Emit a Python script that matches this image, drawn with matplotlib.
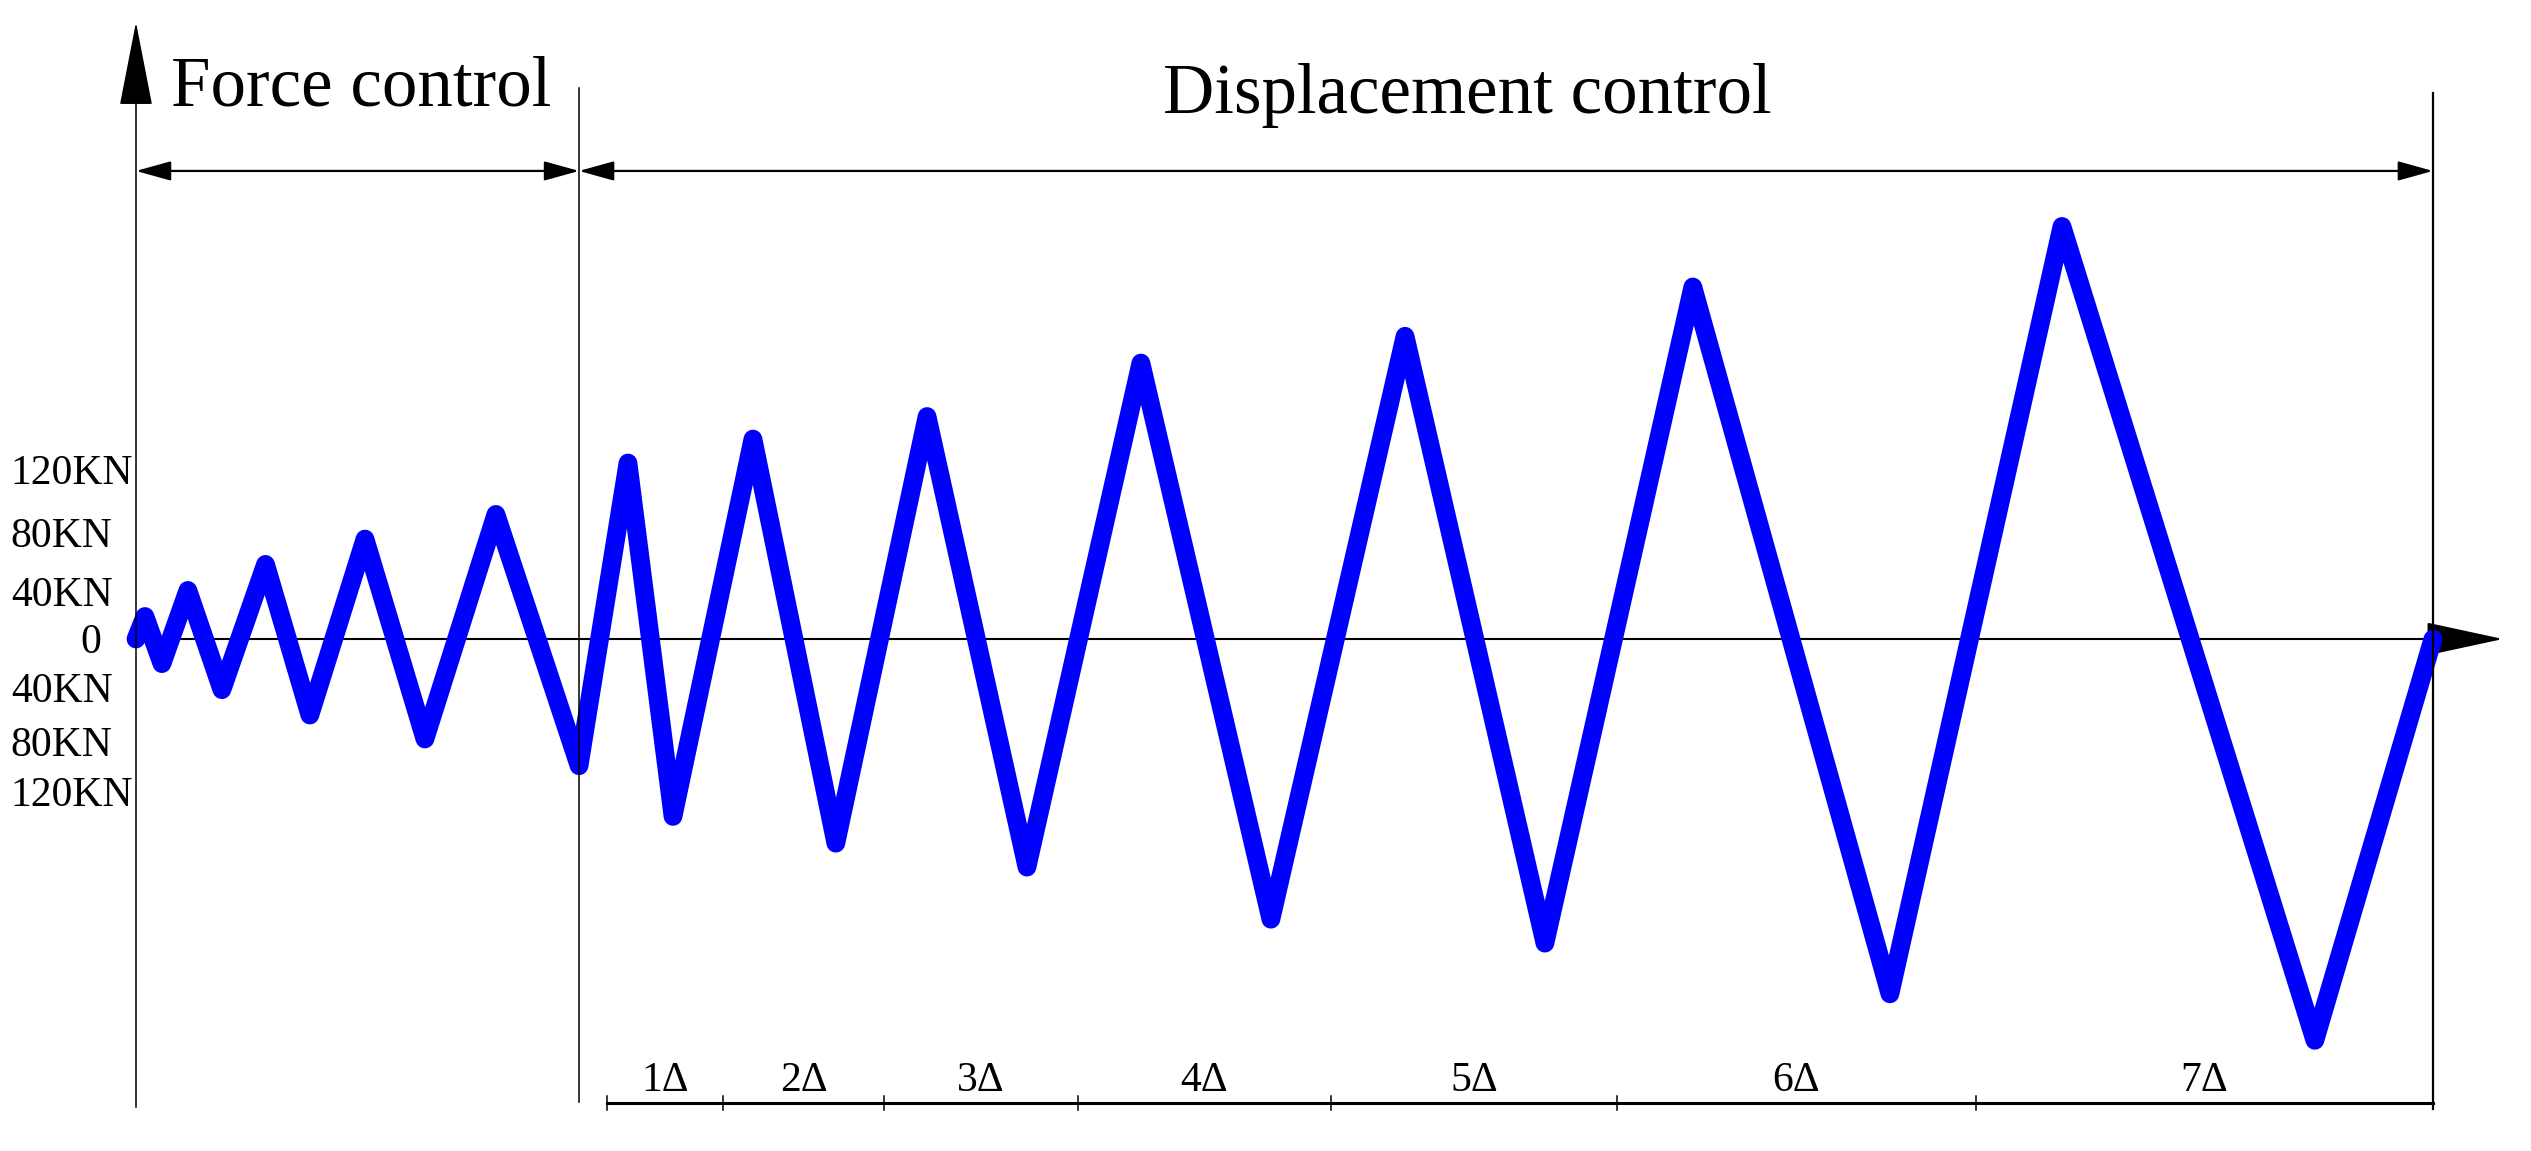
#!/usr/bin/env python3
"""Loading protocol: force control cycles followed by displacement control cycles."""

import matplotlib

matplotlib.use("Agg")
import matplotlib.pyplot as plt
from matplotlib.patches import ArrowStyle

plt.rcParams["font.family"] = ["Liberation Serif", "DejaVu Serif"]

# load steps (time axis, 0..100) and load values (kN-like units)
t_force = [0, 0.39, 1.13, 2.26, 3.74, 5.64, 7.57, 9.97, 12.58, 15.67, 19.29]
f_force = [0, 16, -17.5, 34.5, -36, 53, -54, 71, -71, 88.5, -90]
t_disp = [19.29, 21.42, 23.38, 26.86, 30.47, 34.44, 38.79, 43.75, 49.41, 55.25,
          61.34, 67.78, 76.36, 83.85, 94.86, 100]
f_disp = [-90, 125, -126, 142, -145, 158, -162, 196, -199, 215, -216, 250, -252,
          293, -285, 0]

ytick_vals = [120, 75, 33, 0, -35, -73, -109]
ytick_text = ["120KN", "80KN", "40KN", "0", "40KN", "80KN", "120KN"]

delta_bounds = [20.5, 25.57, 32.56, 41.01, 52.02, 64.48, 80.1, 100]
delta_text = ["1Δ", "2Δ", "3Δ", "4Δ", "5Δ", "6Δ", "7Δ"]

T_SWITCH = t_force[-1]
T_END = t_disp[-1]
BLUE = "#0000ff"
CAP_HALF = 9.9  # half cap height of 30pt labels, in y data units

fig = plt.figure(figsize=(25.31, 11.51), dpi=100)
ax = fig.add_axes([0, 0, 1, 1])
ax.set_xlim(-5.92, 104.27)
ax.set_ylim(-363.6, 453.8)
ax.axis("off")

# curve
ax.plot(t_force + t_disp[1:], f_force + f_disp[1:], color=BLUE, lw=13.5,
        solid_joinstyle="round", solid_capstyle="round", zorder=2)

# x axis with arrow
ax.annotate("", xy=(103.05, 0), xytext=(0, 0),
            arrowprops=dict(arrowstyle=ArrowStyle("-|>", head_length=2.5, head_width=0.54),
                            mutation_scale=20, color="black", lw=1.5,
                            shrinkA=0, shrinkB=0), zorder=1)
# y axis with arrow
ax.plot([0, 0], [-332, 386], color="black", lw=1.1, zorder=3)
ax.annotate("", xy=(0, 438), xytext=(0, 380),
            arrowprops=dict(arrowstyle=ArrowStyle("-|>", head_length=2.77, head_width=0.54),
                            mutation_scale=20, color="black", lw=1.1,
                            shrinkA=0, shrinkB=0), zorder=3)

# boundary lines
ax.plot([T_SWITCH, T_SWITCH], [-329, 391], color="black", lw=1.1, zorder=3)
ax.plot([T_END, T_END], [-334, 388], color="black", lw=1.6, zorder=3)

# dimension lines
dim_style = ArrowStyle("<|-|>", head_length=1.08, head_width=0.3)
for a, b in [(0, T_SWITCH), (T_SWITCH, T_END)]:
    ax.annotate("", xy=(b, 332.4), xytext=(a, 332.4),
                arrowprops=dict(arrowstyle=dim_style, mutation_scale=20, color="black",
                                lw=1.6, shrinkA=0, shrinkB=0))

ax.text((0 + T_SWITCH) / 2 + 0.15, 378.6, "Force control", fontsize=51,
        ha="center", va="baseline")
ax.text(57.97, 373.6, "Displacement control", fontsize=51, ha="center", va="baseline")

# load labels on the left
for v, s in zip(ytick_vals, ytick_text):
    if s == "0":
        ax.text(-1.95, v - CAP_HALF, s, fontsize=30, ha="center", va="baseline")
    else:
        ax.text(-5.45, v - CAP_HALF, s, fontsize=30, ha="left", va="baseline")

# displacement amplitude scale at the bottom
ax.plot([delta_bounds[0], delta_bounds[-1]], [-329.5, -329.5], color="black", lw=2.2)
for b in delta_bounds[:-1]:
    ax.plot([b, b], [-324.5, -334.5], color="black", lw=1.1)
for a, b, s in zip(delta_bounds[:-1], delta_bounds[1:], delta_text):
    ax.text((a + b) / 2, -321, s, fontsize=30, ha="center", va="baseline")

fig.savefig("out.png", dpi=100, facecolor="white")
